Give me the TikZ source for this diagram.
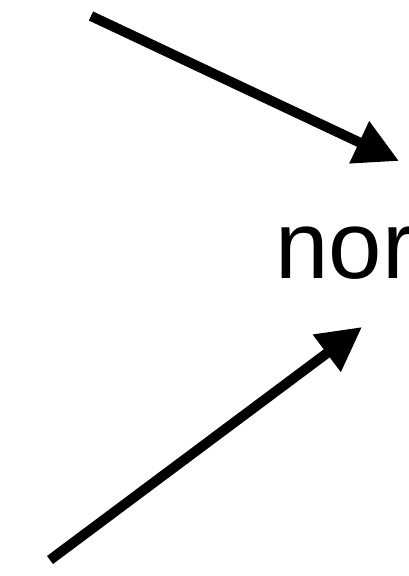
\documentclass[tikz,border=0pt]{standalone}
\usepackage{fontspec}
\setmainfont{Liberation Sans}
\usetikzlibrary{arrows.meta}
\tikzset{
  thickarrow/.style={line width=7.5pt, -{Triangle[length=33pt,width=33pt]}},
  bigtext/.style={inner sep=0pt, anchor=base west, font=\fontsize{72}{86}\selectfont}
}
\begin{document}
\begin{tikzpicture}[x=0.75pt,y=-0.75pt]
\useasboundingbox (0,0) rectangle (409,576);
\clip (0,0) rectangle (409,576);
\node[bigtext] (t) at (275,278) {nor};
\coordinate (s1) at (91,16);
\coordinate (e1) at (399,161);
\coordinate (s2) at (50,560);
\coordinate (e2) at (362,327);
\draw[thickarrow] (s1) -- (e1);
\draw[thickarrow] (s2) -- (e2);
\end{tikzpicture}
\end{document}
